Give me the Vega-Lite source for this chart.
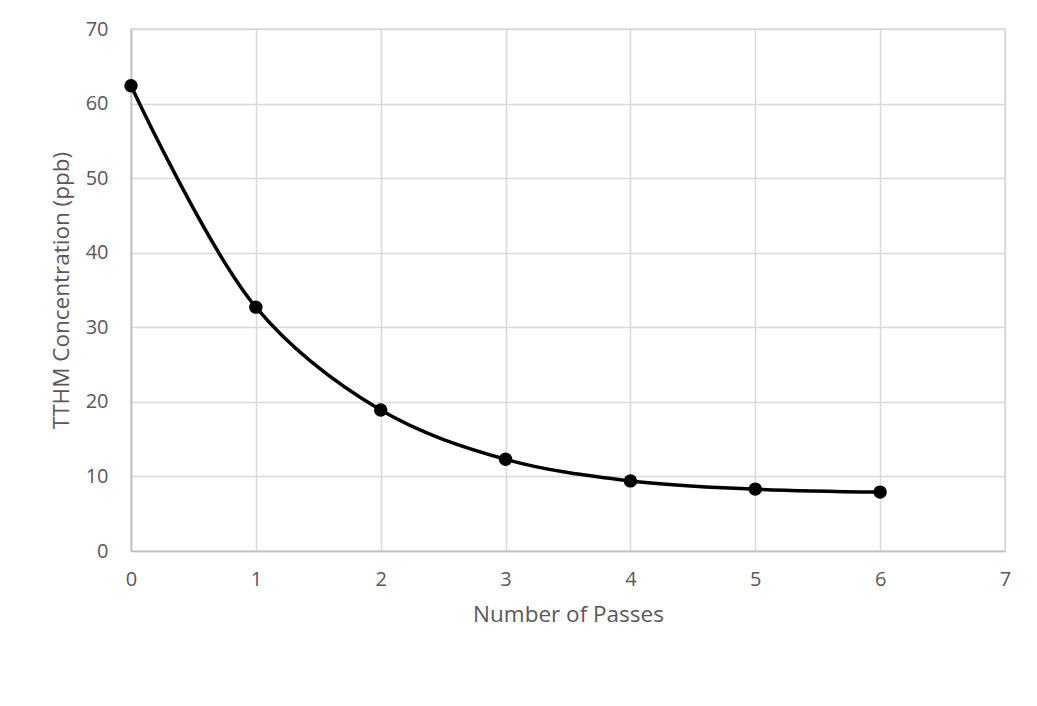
{
  "$schema": "https://vega.github.io/schema/vega-lite/v6.json",
  "width": 874,
  "height": 522,
  "autosize": {"type": "none"},
  "padding": {"left": 131, "top": 29, "right": 32, "bottom": 155},
  "background": "white",
  "data": {"values": [
    {"passes": 0, "tthm": 62.4},
    {"passes": 1, "tthm": 32.7},
    {"passes": 2, "tthm": 18.9},
    {"passes": 3, "tthm": 12.3},
    {"passes": 4, "tthm": 9.4},
    {"passes": 5, "tthm": 8.3},
    {"passes": 6, "tthm": 7.9}
  ]},
  "config": {
    "view": {"stroke": "#d9d9d9", "strokeWidth": 1.5},
    "axis": {
      "labelFont": "Open Sans",
      "titleFont": "Open Sans",
      "labelColor": "#595959",
      "titleColor": "#595959",
      "labelFontSize": 20,
      "titleFontSize": 22.5,
      "titleFontWeight": "normal",
      "gridColor": "#d9d9d9",
      "gridWidth": 1.5,
      "domainColor": "#bfbfbf",
      "domainWidth": 1.5,
      "ticks": false,
      "labelFlush": false
    }
  },
  "encoding": {
    "x": {
      "field": "passes",
      "type": "quantitative",
      "scale": {"domain": [0, 7], "nice": false},
      "axis": {"values": [0, 1, 2, 3, 4, 5, 6, 7], "title": "Number of Passes", "labelPadding": 18, "titlePadding": 14}
    },
    "y": {
      "field": "tthm",
      "type": "quantitative",
      "scale": {"domain": [0, 70], "nice": false},
      "axis": {"values": [0, 10, 20, 30, 40, 50, 60, 70], "title": "TTHM Concentration (ppb)", "labelPadding": 23, "titlePadding": 12}
    }
  },
  "layer": [
    {"mark": {"type": "line", "interpolate": "catmull-rom", "color": "black", "strokeWidth": 3.5}},
    {"mark": {"type": "point", "filled": true, "color": "black", "opacity": 1, "size": 180}}
  ]
}
